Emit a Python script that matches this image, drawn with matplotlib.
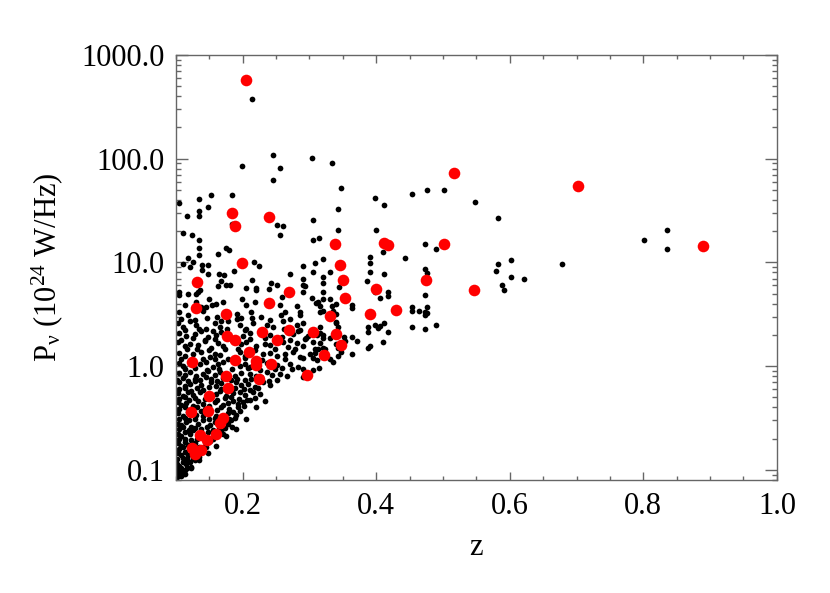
import numpy as np
import matplotlib
matplotlib.use("Agg")
import matplotlib.pyplot as plt
from matplotlib.ticker import FixedLocator, MultipleLocator, LogLocator, FuncFormatter, NullFormatter

# (z, P) pairs for the black sample, grouped by region
black_upper = [
    (0.2135, 380), (0.2447, 109), (0.199, 86), (0.2556, 82), (0.2447, 62), (0.304, 102),
    (0.334, 90), (0.347, 52), (0.104, 37.5), (0.135, 41), (0.153, 45), (0.1835, 45),
    (0.148, 34), (0.135, 31), (0.135, 28), (0.117, 27.9), (0.110, 19.3), (0.124, 18.3),
    (0.135, 16.6), (0.1835, 23.7), (0.2507, 23), (0.260, 22.7), (0.2556, 18.2), (0.305, 25.9),
    (0.343, 33), (0.343, 20.6), (0.3985, 42), (0.4116, 36), (0.3995, 20.6), (0.305, 16.6),
    (0.3147, 17.1), (0.4537, 46), (0.4756, 50), (0.5008, 50), (0.5474, 38.6), (0.5824, 26.9),
    (0.4726, 15), (0.4898, 13.4), (0.4426, 11), (0.8015, 16.3), (0.8356, 20.7), (0.8356, 13.4),
    (0.6787, 9.6), (0.5824, 9.6), (0.6015, 10.6), (0.5794, 8.2), (0.6015, 7.3), (0.6215, 7.0),
    (0.5884, 6.0), (0.5914, 5.4), (0.4737, 8.6), (0.4756, 7.9), (0.4726, 4.85), (0.4537, 3.7),
    (0.4537, 3.4), (0.4647, 3.4), (0.4756, 3.75), (0.4726, 3.3), (0.4756, 3.25), (0.4726, 3.1),
    (0.4898, 2.5), (0.4537, 2.4), (0.4726, 2.3),
]

black_right = [
    (0.320, 10.9), (0.4095, 12.6), (0.3905, 11.3), (0.391, 9.8), (0.391, 8.1), (0.412, 7.7),
    (0.330, 8.0), (0.3208, 7.2), (0.3208, 6.4), (0.3444, 5.8), (0.3865, 6.6), (0.3974, 5.2),
    (0.417, 5.2), (0.417, 4.7), (0.405, 4.5), (0.320, 5.2), (0.320, 4.4), (0.330, 4.4),
    (0.340, 4.0), (0.3635, 3.9), (0.3635, 3.6), (0.3158, 3.8), (0.320, 3.4), (0.340, 3.2),
    (0.387, 2.4), (0.387, 2.15), (0.3985, 2.5), (0.405, 2.45), (0.411, 2.6), (0.402, 2.35),
    (0.417, 2.15), (0.4095, 1.7), (0.387, 1.5), (0.391, 1.57), (0.3158, 2.1), (0.320, 1.87),
    (0.3158, 1.69), (0.320, 1.51), (0.340, 2.6), (0.3433, 2.4), (0.3308, 1.87), (0.352, 1.93),
    (0.3534, 1.75), (0.3635, 1.93), (0.371, 1.75), (0.3635, 1.31), (0.3433, 1.25),
    (0.290, 6.1), (0.2937, 5.9), (0.290, 5.2), (0.3132, 4.15), (0.304, 4.5), (0.3098, 4.1),
    (0.3334, 3.8), (0.3358, 3.4), (0.3398, 2.67), (0.3158, 3.3), (0.2857, 3.3), (0.2857, 3.1),
    (0.3208, 2.0), (0.3233, 1.46), (0.2947, 1.85), (0.2982, 1.95), (0.3083, 1.48), (0.3057, 1.21),
    (0.3108, 1.14), (0.3147, 0.95), (0.3057, 0.92), (0.3308, 1.17), (0.3358, 1.09), (0.347, 1.36),
    (0.3394, 1.63), (0.3433, 1.49), (0.290, 0.935), (0.2907, 0.78),
]

black_left = [
    (0.135, 13.7), (0.135, 11.9), (0.1624, 12.1), (0.1744, 13.7), (0.1794, 13.3), (0.1183, 11),
    (0.1253, 10.1), (0.1214, 9.1), (0.1102, 9.6), (0.1383, 9.4), (0.1383, 8.4), (0.1484, 9.4),
    (0.1484, 7.7), (0.1644, 7.7), (0.1725, 7.5), (0.1674, 6.6), (0.1875, 8.2), (0.2165, 10.2),
    (0.2245, 9.3), (0.2135, 6.8), (0.1624, 5.9), (0.1755, 6.1), (0.1805, 6.0), (0.2056, 5.7),
    (0.2195, 5.7), (0.2195, 5.4), (0.1364, 5.4), (0.1323, 5.2), (0.1304, 5.0), (0.1173, 5.0),
    (0.1042, 5.2), (0.1042, 4.9), (0.1493, 4.4), (0.1304, 4.2), (0.1704, 4.2), (0.1594, 4.0),
    (0.1534, 3.9), (0.1444, 3.75), (0.1373, 3.7), (0.1995, 4.4), (0.2185, 4.15), (0.2417, 6.3),
    (0.2507, 6.1), (0.2396, 5.6), (0.2586, 4.6), (0.2707, 7.8), (0.2902, 9.3), (0.3087, 9.9),
    (0.3057, 8.1), (0.2907, 7.0), (0.1128, 3.9), (0.2056, 3.9), (0.2556, 3.9), (0.2808, 3.8),
]

# middle band, 1 < P < 3, read row by row
black_middle = [
    (0.108, 2.85), (0.128, 2.8), (0.147, 2.9), (0.168, 2.75), (0.192, 2.85), (0.2135, 2.9),
    (0.2406, 2.8), (0.2707, 2.85),
    (0.113, 2.25), (0.134, 2.3), (0.155, 2.2), (0.177, 2.3), (0.203, 2.25), (0.2286, 2.2),
    (0.2617, 2.3), (0.2857, 2.25),
    (0.108, 1.8), (0.125, 1.85), (0.143, 1.8), (0.158, 1.84), (0.1835, 1.78), (0.2105, 1.82),
    (0.233, 1.86), (0.2707, 1.8), (0.293, 1.83),
    (0.117, 1.45), (0.131, 1.48), (0.150, 1.44), (0.173, 1.47), (0.1925, 1.46), (0.218, 1.43),
    (0.248, 1.48), (0.278, 1.45), (0.313, 1.47),
    (0.108, 1.17), (0.123, 1.15), (0.141, 1.18), (0.158, 1.16), (0.1775, 1.17), (0.203, 1.19),
    (0.2286, 1.15), (0.263, 1.17), (0.290, 1.2),
    (0.113, 0.93), (0.128, 0.95), (0.147, 0.92), (0.165, 0.94), (0.1835, 0.93), (0.2075, 0.95),
    (0.2256, 0.92), (0.248, 0.94), (0.274, 0.93),
]

# dense lower-left wedge, read row by row
black_dense = [
    (0.105, 3.3), (0.118, 3.1), (0.140, 3.4), (0.161, 3.0), (0.191, 3.2), (0.198, 2.9),
    (0.213, 3.3), (0.228, 3.0), (0.258, 3.1), (0.263, 3.3),
    (0.1027, 2.6), (0.1102, 2.4), (0.1203, 2.7), (0.1304, 2.5), (0.1454, 2.3), (0.1579, 2.6),
    (0.1654, 2.4), (0.1779, 2.7), (0.1955, 2.5), (0.2056, 2.3), (0.2155, 2.6), (0.2357, 2.5),
    (0.2456, 2.4), (0.2606, 2.7), (0.2808, 2.5), (0.2907, 2.6), (0.3158, 2.4),
    (0.105, 2.1), (0.1153, 1.95), (0.1278, 2.05), (0.1379, 2.2), (0.1478, 1.9), (0.1605, 2.0),
    (0.168, 2.15), (0.2005, 1.95), (0.2105, 2.1), (0.2406, 2.0), (0.2582, 1.9), (0.2757, 2.05),
    (0.2832, 2.2), (0.3108, 2.0),
    (0.1027, 1.7), (0.1128, 1.55), (0.1203, 1.65), (0.1328, 1.6), (0.1429, 1.75), (0.1529, 1.5),
    (0.1629, 1.68), (0.1704, 1.58), (0.198, 1.62), (0.2056, 1.72), (0.2206, 1.55), (0.2331, 1.65),
    (0.2406, 1.6), (0.2606, 1.7), (0.2681, 1.52), (0.2808, 1.66), (0.2907, 1.58), (0.3057, 1.7),
    (0.105, 1.35), (0.1128, 1.25), (0.1253, 1.3), (0.1379, 1.38), (0.1504, 1.22), (0.1579, 1.32),
    (0.1654, 1.28), (0.1955, 1.36), (0.203, 1.24), (0.2305, 1.3), (0.2406, 1.34), (0.2507, 1.26),
    (0.2632, 1.3), (0.2757, 1.38), (0.2857, 1.22), (0.3008, 1.3), (0.3083, 1.33),
    (0.105, 1.08), (0.1102, 1.0), (0.1353, 1.05), (0.1454, 1.1), (0.1553, 0.98), (0.1629, 1.04),
    (0.1704, 1.1), (0.1955, 1.0), (0.203, 1.06), (0.2105, 0.98), (0.2357, 1.08), (0.2507, 1.02),
    (0.2582, 0.96), (0.2707, 1.05), (0.2832, 0.98),
    (0.105, 0.86), (0.1128, 0.82), (0.1203, 0.88), (0.1304, 0.8), (0.1403, 0.85), (0.1478, 0.9),
    (0.1579, 0.83), (0.1654, 0.87), (0.188, 0.81), (0.198, 0.86), (0.2105, 0.84), (0.2206, 0.8),
    (0.2357, 0.88), (0.2432, 0.82), (0.2556, 0.85), (0.2657, 0.8),
    (0.102, 0.74), (0.110, 0.77), (0.1175, 0.72), (0.128, 0.76), (0.1353, 0.73), (0.1444, 0.78),
    (0.153, 0.75), (0.162, 0.72), (0.171, 0.77), (0.183, 0.74), (0.192, 0.76), (0.204, 0.73),
    (0.213, 0.75), (0.228, 0.78), (0.240, 0.72), (0.252, 0.74),
    (0.105, 0.7), (0.1128, 0.65), (0.1203, 0.68), (0.1278, 0.72), (0.1379, 0.66), (0.1529, 0.7),
    (0.1605, 0.64), (0.168, 0.69), (0.1905, 0.71), (0.198, 0.66), (0.208, 0.68), (0.218, 0.63),
    (0.2305, 0.7), (0.2406, 0.66),
    (0.105, 0.6), (0.114, 0.62), (0.123, 0.58), (0.132, 0.61), (0.141, 0.59), (0.150, 0.63),
    (0.168, 0.6), (0.177, 0.58), (0.188, 0.62), (0.2015, 0.6), (0.2105, 0.59), (0.223, 0.61),
    (0.1027, 0.55), (0.1102, 0.52), (0.1177, 0.57), (0.1253, 0.53), (0.1353, 0.56), (0.1605, 0.54),
    (0.1654, 0.58), (0.1755, 0.52), (0.1854, 0.55), (0.1955, 0.57), (0.203, 0.53), (0.2155, 0.56),
    (0.2256, 0.54),
    (0.105, 0.48), (0.113, 0.5), (0.120, 0.47), (0.129, 0.49), (0.143, 0.48), (0.153, 0.51),
    (0.162, 0.47), (0.174, 0.49), (0.183, 0.5), (0.195, 0.48), (0.206, 0.47), (0.218, 0.49),
    (0.1027, 0.45), (0.1078, 0.42), (0.1153, 0.44), (0.1253, 0.41), (0.1328, 0.46), (0.1403, 0.43),
    (0.1579, 0.45), (0.1704, 0.42), (0.1779, 0.44), (0.1854, 0.46), (0.1929, 0.43), (0.2005, 0.45),
    (0.2105, 0.47),
    (0.104, 0.39), (0.113, 0.4), (0.122, 0.38), (0.131, 0.4), (0.143, 0.39), (0.150, 0.41),
    (0.162, 0.38), (0.168, 0.4), (0.180, 0.39), (0.1925, 0.4), (0.2015, 0.41),
    (0.1027, 0.35), (0.1102, 0.33), (0.1177, 0.36), (0.1304, 0.34), (0.1379, 0.37), (0.1605, 0.33),
    (0.1779, 0.35), (0.1854, 0.36), (0.1905, 0.34), (0.1955, 0.37),
    (0.105, 0.31), (0.113, 0.32), (0.120, 0.3), (0.129, 0.31), (0.140, 0.33), (0.150, 0.31),
    (0.159, 0.32), (0.168, 0.3), (0.180, 0.31), (0.189, 0.32),
    (0.1027, 0.28), (0.1078, 0.27), (0.1153, 0.29), (0.1229, 0.26), (0.1328, 0.28), (0.1403, 0.3),
    (0.1504, 0.27), (0.1579, 0.29), (0.1779, 0.28), (0.183, 0.3),
    (0.104, 0.25), (0.111, 0.26), (0.120, 0.245), (0.128, 0.255), (0.138, 0.25), (0.147, 0.26),
    (0.156, 0.245), (0.165, 0.25), (0.174, 0.255), (0.1835, 0.26),
    (0.1027, 0.22), (0.1078, 0.21), (0.1128, 0.23), (0.1203, 0.22), (0.1253, 0.24), (0.1353, 0.21),
    (0.1478, 0.23), (0.168, 0.235), (0.1704, 0.22),
    (0.105, 0.2), (0.114, 0.2), (0.123, 0.195), (0.132, 0.2), (0.141, 0.205), (0.153, 0.2),
    (0.162, 0.21),
    (0.1027, 0.18), (0.1078, 0.17), (0.1128, 0.185), (0.1177, 0.175), (0.1278, 0.18), (0.1504, 0.19),
    (0.1553, 0.2),
    (0.104, 0.16), (0.111, 0.165), (0.120, 0.16), (0.129, 0.158), (0.135, 0.165), (0.144, 0.17),
    (0.1027, 0.145), (0.1078, 0.14), (0.1128, 0.15), (0.1177, 0.14), (0.1253, 0.145), (0.1403, 0.16),
    (0.1454, 0.165),
    (0.102, 0.128), (0.110, 0.13), (0.117, 0.128), (0.126, 0.13), (0.135, 0.133),
    (0.1012, 0.115), (0.1053, 0.11), (0.1102, 0.12), (0.1153, 0.115), (0.1203, 0.12), (0.1278, 0.125),
    (0.102, 0.102), (0.108, 0.104), (0.116, 0.105), (0.123, 0.107),
    (0.1012, 0.09), (0.1042, 0.095), (0.1078, 0.097), (0.1128, 0.1), (0.101, 0.085),
    (0.102, 0.087), (0.107, 0.088), (0.111, 0.092),
    # lower edge of the wedge
    (0.233, 0.46), (0.220, 0.40), (0.205, 0.31), (0.190, 0.25), (0.175, 0.21), (0.160, 0.17),
    (0.148, 0.145), (0.135, 0.125), (0.122, 0.105), (0.113, 0.092),
]

# red sample
red_points = [
    (0.2045, 575), (0.517, 73), (0.702, 54), (0.890, 14.3), (0.184, 30), (0.188, 22.3),
    (0.2396, 27.3), (0.1985, 9.9), (0.132, 6.5), (0.269, 5.2), (0.2396, 4.1), (0.130, 3.66),
    (0.338, 15.1), (0.412, 15.5), (0.417, 14.8), (0.501, 15.1), (0.346, 9.5), (0.350, 6.7),
    (0.474, 6.7), (0.547, 5.4), (0.400, 5.5), (0.353, 4.5), (0.429, 3.5), (0.390, 3.18),
    (0.330, 3.03), (0.340, 2.05), (0.347, 1.59), (0.321, 1.28), (0.1755, 3.18), (0.2296, 2.14),
    (0.2687, 2.23), (0.305, 2.14), (0.1764, 1.96), (0.188, 1.79), (0.2507, 1.77), (0.2095, 1.36),
    (0.2195, 1.12), (0.2195, 1.02), (0.124, 1.10), (0.188, 1.14), (0.243, 1.04), (0.297, 0.83),
    (0.2245, 0.76), (0.1755, 0.80), (0.1785, 0.62), (0.149, 0.52), (0.122, 0.364), (0.148, 0.37),
    (0.170, 0.314), (0.1665, 0.283), (0.160, 0.223), (0.136, 0.217), (0.146, 0.193), (0.124, 0.162),
    (0.138, 0.157), (0.128, 0.142),
]

x_ticks = [0.2, 0.4, 0.6, 0.8, 1.0]

plt.rcParams['font.family'] = ['Liberation Serif', 'DejaVu Serif']
plt.rcParams['mathtext.fontset'] = 'custom'
plt.rcParams['mathtext.rm'] = 'Liberation Serif'
plt.rcParams['mathtext.it'] = 'Liberation Serif:italic'

black = np.array(black_upper + black_right + black_left + black_middle + black_dense)
red = np.array(red_points)

fig = plt.figure(figsize=(8.3, 5.93), dpi=100)
ax = fig.add_axes([0.212, 0.1906, 0.724, 0.7167])

ax.scatter(black[:, 0], black[:, 1], s=17, c='black', linewidths=0, zorder=2)
ax.scatter(red[:, 0], red[:, 1], s=70, c='red', linewidths=0, zorder=3)

ax.set_yscale('log')
ax.set_xlim(0.1, 1.0)
ax.set_ylim(0.08, 1000)

ax.xaxis.set_major_locator(FixedLocator(x_ticks))
ax.xaxis.set_minor_locator(MultipleLocator(0.05))
ax.xaxis.set_major_formatter(FuncFormatter(lambda v, p: f'{v:.1f}'))
ax.yaxis.set_major_locator(LogLocator(10, numticks=10))
ax.yaxis.set_minor_locator(LogLocator(10, subs=np.arange(2, 10), numticks=30))
ax.yaxis.set_major_formatter(FuncFormatter(lambda v, p: f'{v:.1f}'))
ax.yaxis.set_minor_formatter(NullFormatter())

edge = '#666666'
for sp in ax.spines.values():
    sp.set_color(edge)
    sp.set_linewidth(1.0)
ax.tick_params(which='both', direction='in', top=True, right=True, color=edge,
               width=1.0, labelsize=22, labelcolor='black')
ax.tick_params(axis='x', which='major', length=6, pad=9)
ax.tick_params(axis='x', which='minor', length=3)
ax.tick_params(axis='y', which='major', length=8.5, pad=8)
ax.tick_params(axis='y', which='minor', length=3.5)

ax.set_xlabel('z', fontsize=22, labelpad=8)
ax.set_ylabel(r'P$_{\mathrm{ν}}$ (10$^{24}$ W/Hz)', fontsize=22, labelpad=12)

fig.savefig('out.png', dpi=100)
